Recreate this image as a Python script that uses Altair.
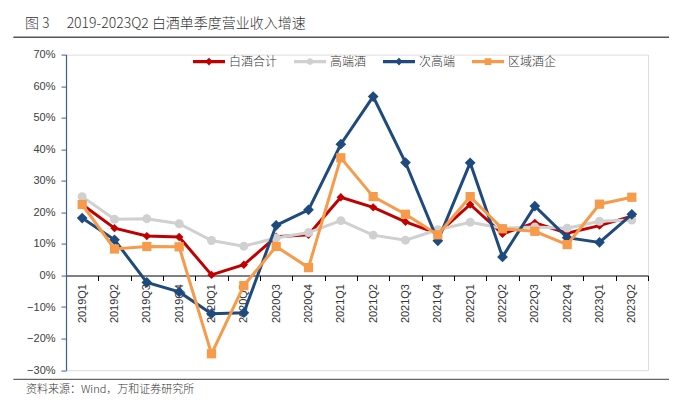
import altair as alt
import pandas as pd

quarters = ["2019Q1", "2019Q2", "2019Q3", "2019Q4", "2020Q1", "2020Q2", "2020Q3", "2020Q4",
            "2021Q1", "2021Q2", "2021Q3", "2021Q4", "2022Q1", "2022Q2", "2022Q3", "2022Q4",
            "2023Q1", "2023Q2"]
series_names = ["白酒合计", "高端酒", "次高端", "区域酒企"]
baijiu_total = [22.5, 15.0, 12.5, 12.2, 0.2, 3.4, 12.3, 12.9, 24.8, 21.6, 17.0, 13.3, 22.5, 13.2, 16.7, 13.4, 15.8, 18.8]
high_end = [25.0, 17.8, 18.0, 16.4, 11.1, 9.3, 11.9, 13.6, 17.4, 12.8, 11.2, 14.5, 16.9, 15.0, 15.4, 15.0, 17.2, 17.6]
sub_high_end = [18.2, 11.3, -2.2, -5.2, -12.1, -11.8, 15.9, 20.8, 41.6, 56.7, 35.8, 11.0, 35.7, 5.9, 22.0, 12.0, 10.5, 19.4]
regional = [22.5, 8.4, 9.2, 9.1, -24.8, -3.2, 9.2, 2.5, 37.3, 25.0, 19.4, 12.9, 25.0, 14.8, 14.0, 9.8, 22.6, 24.8]
y_ticks = [-30, -20, -10, 0, 10, 20, 30, 40, 50, 60, 70]
title_text = "图 3\u3000 2019-2023Q2 白酒单季度营业收入增速"
source_text = "资料来源：Wind，万和证券研究所"

colors = ["#C00000", "#D0D0D0", "#1F4A7D", "#F79A4A"]
marker_shapes = ["diamond", "circle", "diamond", "square"]
marker_sizes = [70, 80, 115, 85]
bar = "M-1,-0.1L1,-0.1L1,0.1L-1,0.1Z "
legend_paths = [
    bar + "M0,-0.24L0.24,0L0,0.24L-0.24,0Z",
    bar + "M-0.21,0A0.21,0.21 0 1,1 0.21,0A0.21,0.21 0 1,1 -0.21,0Z",
    bar + "M0,-0.24L0.24,0L0,0.24L-0.24,0Z",
    bar + "M-0.21,-0.21L0.21,-0.21L0.21,0.21L-0.21,0.21Z",
]

rows = []
for name, vals in zip(series_names, [baijiu_total, high_end, sub_high_end, regional]):
    for q, v in zip(quarters, vals):
        rows.append({"quarter": q, "series": name, "value": v})
df = pd.DataFrame(rows)

H = 315.6
W = 582
LABEL_FONT = "Liberation Sans"
CJK_FONT = "Noto Sans CJK SC"

x_enc = alt.X(
    "quarter:N",
    sort=quarters,
    bandPosition=0.5,
    scale=alt.Scale(type="band", domain=quarters, paddingInner=0, paddingOuter=0),
    axis=alt.Axis(
        title=None, labelAngle=-90, tickBand="extent", offset=-H * 0.3,
        domainColor="#000000", domainWidth=1, tickColor="#000000", tickSize=5, tickWidth=1,
        labelPadding=3, labelFontSize=11, labelFont=LABEL_FONT, labelColor="#333333",
        grid=False, zindex=0,
    ),
)
y_enc = alt.Y(
    "v:Q",
    scale=alt.Scale(domain=[-0.3, 0.7], nice=False, zero=False),
    axis=alt.Axis(
        title=None, values=[t / 100 for t in y_ticks], format=".0%", grid=False,
        domainColor="#3F5F93", domainWidth=1.2, tickColor="#3F5F93", tickSize=5,
        labelPadding=6, labelFontSize=11, labelFont=LABEL_FONT, labelColor="#404040", zindex=0,
    ),
)

base = alt.Chart(df).transform_calculate(v="datum.value / 100")

layers = []
for name, col, shp, sz in zip(series_names, colors, marker_shapes, marker_sizes):
    s = base.transform_filter(alt.datum.series == name)
    layers.append(s.mark_line(strokeWidth=3, color=col).encode(x=x_enc, y=y_enc))
    layers.append(
        s.mark_point(filled=True, opacity=1, color=col, strokeWidth=0).encode(
            x=x_enc, y=y_enc, shape=alt.value(shp), size=alt.value(sz)
        )
    )

legend_params = dict(
    orient="none", legendX=127, legendY=-9, direction="horizontal", title=None,
    symbolSize=1024, symbolStrokeWidth=0, labelFontSize=12, labelFont=CJK_FONT,
    labelFontWeight=300, labelColor="#333333", labelOffset=4, columnPadding=16, padding=0,
)
legend_layer = base.transform_filter("false").mark_point(filled=True, opacity=1).encode(
    x=x_enc, y=y_enc,
    color=alt.Color("series:N", scale=alt.Scale(domain=series_names, range=colors),
                    legend=alt.Legend(**legend_params)),
    shape=alt.Shape("series:N", scale=alt.Scale(domain=series_names, range=legend_paths),
                    legend=alt.Legend(**legend_params)),
)

title_layer = alt.Chart(pd.DataFrame({"t": [title_text]})).mark_text(
    align="left", baseline="middle", fontSize=14, font=CJK_FONT, fontWeight=300, color="#333333"
).encode(text="t:N", x=alt.value(-41), y=alt.value(-31))

source_layer = alt.Chart(pd.DataFrame({"t": [source_text]})).mark_text(
    align="left", baseline="middle", fontSize=11, font=CJK_FONT, fontWeight=300, color="#333333"
).encode(text="t:N", x=alt.value(-40), y=alt.value(335.5))

top_rule = alt.Chart(pd.DataFrame({"a": [0]})).mark_rule(color="#555555", strokeWidth=1.6).encode(
    x=alt.value(-52.7), x2=alt.value(620), y=alt.value(-17.3)
)
bottom_rule = alt.Chart(pd.DataFrame({"a": [0]})).mark_rule(color="#666666", strokeWidth=1.2).encode(
    x=alt.value(-52.7), x2=alt.value(620), y=alt.value(324.7)
)

chart = alt.layer(
    top_rule, bottom_rule, title_layer, source_layer, *layers, legend_layer
).properties(
    width=W, height=H,
    autosize=alt.AutoSizeParams(type="none"),
    padding={"left": 58, "top": 46.6, "right": 21, "bottom": 40},
).configure_view(stroke=None).configure(background="#ffffff")

chart.save("out.html", embed_options={"renderer": "svg", "actions": False})
